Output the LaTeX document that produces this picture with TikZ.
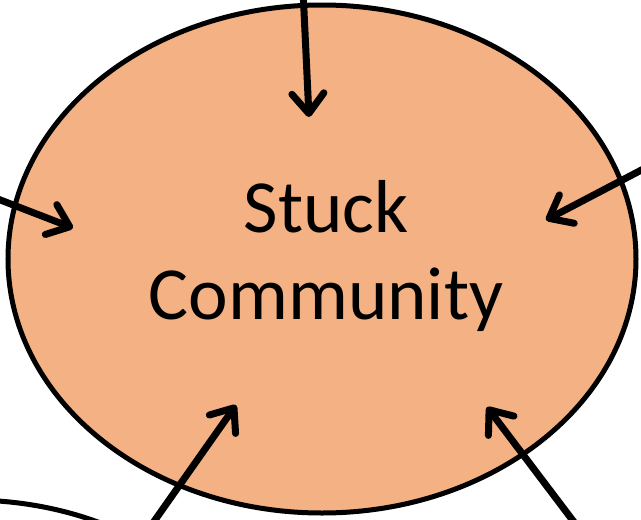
\documentclass[tikz,border=0pt]{standalone}
\usepackage{fontspec}
\setmainfont{Carlito}
\usetikzlibrary{arrows.meta}
\definecolor{fillorange}{HTML}{F4B183}
\tikzset{
  flowarrow/.style={line width=7pt, -{Straight Barb[length=20pt,width=32pt,round]}},
  bubble/.style={ellipse, draw, line width=5pt, fill=fillorange, inner sep=0pt,
    minimum width=628pt, minimum height=508pt, align=center,
    font=\fontsize{75}{87}\selectfont}
}
\usetikzlibrary{shapes.geometric}
\begin{document}
\begin{tikzpicture}[x=1pt,y=-1pt]
\useasboundingbox (0,0) rectangle (641,520);
% partial neighbouring ellipse at bottom left
\draw[line width=5pt] (-30,700) ellipse [x radius=280, y radius=200];
\node[bubble] (stuck) at (322,259) {};
\node[font=\fontsize{75}{87}\selectfont, align=center] (label) at (326,256) {Stuck\\Community};
\coordinate (topsrc) at (303,-10);
\coordinate (toptip) at (309,117);
\coordinate (leftsrc) at (-10,196);
\coordinate (lefttip) at (73,228);
\coordinate (rightsrc) at (651,165);
\coordinate (righttip) at (546,220);
\coordinate (blsrc) at (148,530);
\coordinate (bltip) at (236,405);
\coordinate (brsrc) at (580,530);
\coordinate (brtip) at (487,407);
\draw[flowarrow] (topsrc) -- (toptip);
\draw[flowarrow] (leftsrc) -- (lefttip);
\draw[flowarrow] (rightsrc) -- (righttip);
\draw[flowarrow] (blsrc) -- (bltip);
\draw[flowarrow] (brsrc) -- (brtip);
\end{tikzpicture}
\end{document}
